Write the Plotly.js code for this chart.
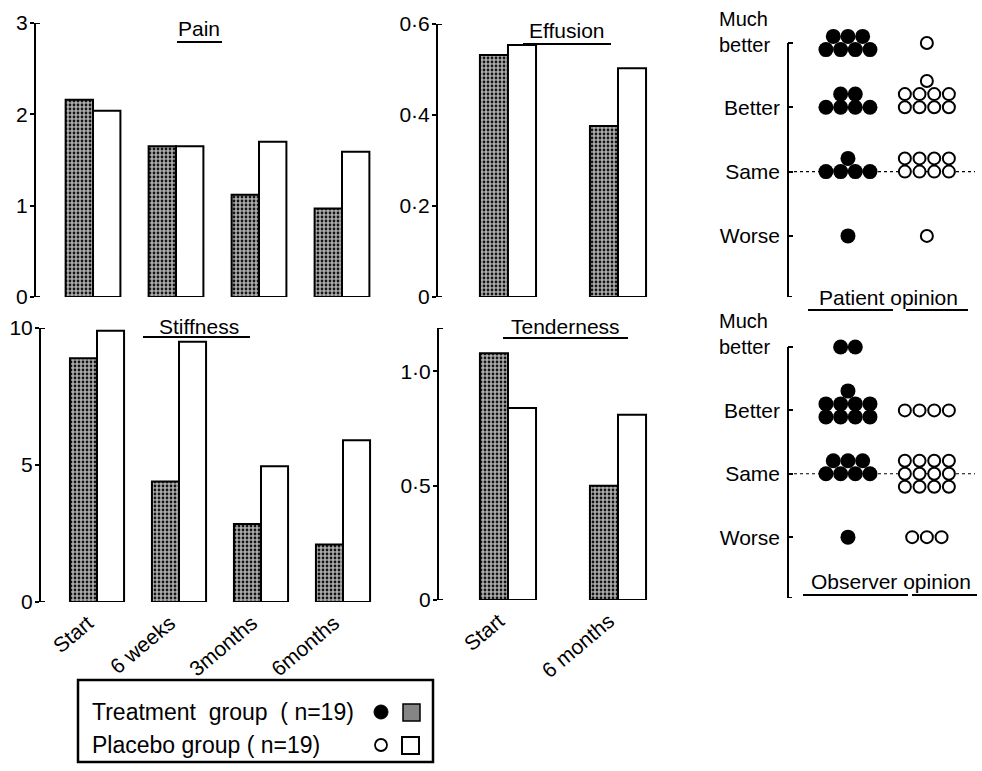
<!DOCTYPE html>
<html>
<head>
<meta charset="utf-8">
<script src="https://cdn.plot.ly/plotly-3.0.1.min.js"></script>
<style>html,body{margin:0;padding:0;background:#fff;}#chart{width:982px;height:771px;}</style>
</head>
<body>
<div id="chart"></div>
<script>
// ---------- data ----------
const timeCats = ['Start', '6 weeks', '3months', '6months'];
const twoCats = ['Start', '6 months'];

const painTreatment = [2.16, 1.65, 1.12, 0.97];
const painPlacebo = [2.04, 1.65, 1.70, 1.59];

const stiffTreatment = [8.9, 4.4, 2.85, 2.1];
const stiffPlacebo = [9.9, 9.5, 4.95, 5.9];

const effTreatment = [0.532, 0.376];
const effPlacebo = [0.554, 0.503];

const tendTreatment = [1.08, 0.50];
const tendPlacebo = [0.84, 0.81];

const painTickVals = [0, 1, 2, 3];
const painTickText = ['0', '1', '2', '3'];
const effTickVals = [0, 0.2, 0.4, 0.6];
const effTickText = ['0', '0·2', '0·4', '0·6'];
const stiffTickVals = [0, 5, 10];
const stiffTickText = ['0', '5', '10'];
const tendTickVals = [0, 0.5, 1.0];
const tendTickText = ['0', '0·5', '1·0'];

// opinion levels (value 1..4) and counts of patients per level
const opinionLevels = ['Worse', 'Same', 'Better', 'Much better'];
const patientTreatment = [1, 5, 6, 7];
const patientPlacebo = [1, 8, 9, 1];
const observerTreatment = [1, 7, 9, 2];
const observerPlacebo = [3, 12, 4, 0];

const groupNames = ['Treatment', 'Placebo'];
const groupN = [19, 19];

// ---------- helpers ----------
const W = 982, H = 771;
const px = x => x / W;
const py = y => 1 - y / H;
const FONT = 'Liberation Sans, Arial, sans-serif';

function packDots(counts, center, anchor) {
  const dx = 0.186, dy = 0.205;
  const xs = [], ys = [];
  counts.forEach((n, i) => {
    if (!n) return;
    const level = i + 1;
    const base = n <= 4 ? 1 : Math.floor(n / 4);
    const rows = [];
    for (let k = 0; k < base; k++) rows.push(n <= 4 ? n : 4);
    if (n > 4 && n % 4) rows.push(n % 4);
    // top level of the scale: stack centred on the tick
    const anc = (level === counts.length) ? 'all' : anchor;
    rows.forEach((r, k) => {
      let yoff;
      if (anc === 'all') yoff = (k - (rows.length - 1) / 2) * dy;
      else if (k < base) yoff = anc === 'bottom' ? k * dy : (k - (base - 1) / 2) * dy;
      else yoff = (anc === 'bottom' ? (base - 1) * dy : (base - 1) / 2 * dy) + dy;
      for (let j = 0; j < r; j++) {
        xs.push(center + (j - (r - 1) / 2) * dx);
        ys.push(level + yoff);
      }
    });
  });
  return {x: xs, y: ys};
}

const stipple = {
  color: '#989898',
  line: {color: 'black', width: 2},
  pattern: {shape: '.', fgcolor: '#141414', bgcolor: '#acacac', size: 4, solidity: 0.38, fillmode: 'replace'}
};
const plain = {color: 'white', line: {color: 'black', width: 2}};

function barPair(cats, tr, pl, xa, ya, w) {
  return [
    {type: 'bar', x: cats, y: tr, xaxis: xa, yaxis: ya, width: w, offset: -w, marker: stipple, hoverinfo: 'skip'},
    {type: 'bar', x: cats, y: pl, xaxis: xa, yaxis: ya, width: w, offset: 0, marker: plain, hoverinfo: 'skip'}
  ];
}

const wide = 0.33, narrow = 0.255;
const traces = [
  ...barPair(timeCats, painTreatment, painPlacebo, 'x', 'y', wide),
  ...barPair(twoCats, effTreatment, effPlacebo, 'x2', 'y2', narrow),
  ...barPair(timeCats, stiffTreatment, stiffPlacebo, 'x3', 'y3', wide),
  ...barPair(twoCats, tendTreatment, tendPlacebo, 'x4', 'y4', narrow)
];

const filledM = {symbol: 'circle', size: 15, color: 'black', line: {width: 0}};
const openM = {symbol: 'circle', size: 12, color: 'white', line: {color: 'black', width: 2}};
[[patientTreatment, 1, filledM, 'x5', 'y5', 'bottom'],
 [patientPlacebo, 2, openM, 'x5', 'y5', 'bottom'],
 [observerTreatment, 1, filledM, 'x6', 'y6', 'center'],
 [observerPlacebo, 2, openM, 'x6', 'y6', 'center']].forEach(([c, ctr, m, xa, ya, anc]) => {
  const d = packDots(c, ctr, anc);
  traces.push({type: 'scatter', mode: 'markers', x: d.x, y: d.y, xaxis: xa, yaxis: ya, marker: m, hoverinfo: 'skip', cliponaxis: false});
});

// ---------- axes ----------
const tickFont = {family: FONT, size: 21, color: 'black'};
function yAx(dom, range, vals, text, anchor) {
  return {domain: [py(dom[1]), py(dom[0])], range: range, anchor: anchor, tickvals: vals, ticktext: text,
    showline: true, linecolor: 'black', linewidth: 2, ticks: 'outside', ticklen: 4, tickwidth: 2, tickcolor: 'black',
    showgrid: false, zeroline: false, tickfont: tickFont, ticklabelstandoff: -2, fixedrange: true};
}
function xAx(dom, range, anchor, showLabels, cats) {
  return {domain: [px(dom[0]), px(dom[1])], range: range, anchor: anchor, type: 'category',
    categoryarray: cats, showline: false, showgrid: false, zeroline: false, ticks: '',
    showticklabels: showLabels, tickangle: -40, tickfont: {family: FONT, size: 21, color: 'black'},
    ticklabelshift: -9, ticklabelstandoff: 4, fixedrange: true};
}
// dot panels: range extended above the top level so stacked dots fit; axis line drawn as a shape
const dotTop = 4.25;
function dotY(domBottom, levelTopPx, bottomVal, anchor) {
  const pxPerUnit = (domBottom - levelTopPx) / (4 - bottomVal);
  const topPx = levelTopPx - (dotTop - 4) * pxPerUnit;
  return {domain: [py(domBottom), py(topPx)], range: [bottomVal, dotTop], anchor: anchor,
    tickvals: [1, 2, 3, 4], ticktext: opinionLevels.slice(0, 3).concat(['']),
    showline: false, ticks: 'inside', ticklen: 5, tickwidth: 2, tickcolor: 'black',
    showgrid: false, zeroline: false, tickfont: {family: FONT, size: 21, color: 'black'}, ticklabelstandoff: 7, fixedrange: true};
}
function dotX(anchor) {
  return {domain: [px(788), px(975)], range: [0.24, 2.61], anchor: anchor, visible: false, fixedrange: true};
}

const layout = {
  width: W, height: H, margin: {l: 0, r: 0, t: 0, b: 0},
  paper_bgcolor: 'white', plot_bgcolor: 'rgba(0,0,0,0)', showlegend: false, barmode: 'overlay',
  font: {family: FONT, color: 'black'},
  xaxis: xAx([36, 383.5], [-0.687, 3.5], 'y', false, timeCats),
  yaxis: yAx([23, 297], [0, 3], painTickVals, painTickText, 'x'),
  xaxis2: xAx([438, 673], [-0.636, 1.5], 'y2', false, twoCats),
  yaxis2: yAx([24, 297], [0, 0.6], effTickVals, effTickText, 'x2'),
  xaxis3: xAx([41, 384], [-0.683, 3.5], 'y3', true, timeCats),
  yaxis3: yAx([328, 602], [0, 10], stiffTickVals, stiffTickText, 'x3'),
  xaxis4: xAx([439, 673], [-0.627, 1.5], 'y4', true, twoCats),
  yaxis4: yAx([328, 600], [0, 1.19], tendTickVals, tendTickText, 'x4'),
  xaxis5: dotX('y5'),
  yaxis5: dotY(297, 43, 0.05, 'x5'),
  xaxis6: dotX('y6'),
  yaxis6: dotY(598, 347, 0.04, 'x6'),
  shapes: [], annotations: []
};

const A = layout.annotations, S = layout.shapes;
function txt(text, x, y, size, xanchor, extra) {
  A.push(Object.assign({text: text, xref: 'paper', yref: 'paper', x: px(x), y: py(y), xanchor: xanchor || 'center', yanchor: 'middle',
    showarrow: false, font: {family: FONT, size: size, color: 'black'}}, extra || {}));
}
function uline(x0, x1, y) {
  S.push({type: 'line', xref: 'paper', yref: 'paper', x0: px(x0), x1: px(x1), y0: py(y), y1: py(y), line: {color: 'black', width: 2}});
}
function hook(xa, ya, yv) {
  S.push({type: 'line', xref: xa + ' domain', yref: ya, xsizemode: 'pixel', xanchor: 0, x0: -1, x1: 4, y0: yv, y1: yv,
    line: {color: 'black', width: 2}});
}

// axis end hooks
hook('x', 'y', 0); hook('x', 'y', 3);
hook('x2', 'y2', 0); hook('x2', 'y2', 0.6);
hook('x3', 'y3', 0); hook('x3', 'y3', 10);
hook('x4', 'y4', 0); hook('x4', 'y4', 1.19);

// dot panel axis lines and bottom hooks
[['x5', 'y5', 0.05], ['x6', 'y6', 0.04]].forEach(([xa, ya, b]) => {
  S.push({type: 'line', xref: xa + ' domain', yref: ya, x0: 0, x1: 0, y0: b, y1: 4, line: {color: 'black', width: 2}});
  hook(xa, ya, b);
  S.push({type: 'line', xref: xa + ' domain', yref: ya, x0: 0, x1: 1, y0: 2, y1: 2, layer: 'below',
    line: {color: 'black', width: 1.2, dash: 'dot'}});
});

// panel titles
txt('Pain', 199, 29, 21); uline(177, 222, 42);
txt('Effusion', 567, 31, 21); uline(523, 611, 44);
txt('Stiffness', 199, 326, 21); uline(143, 250, 337);
txt('Tenderness', 565, 326, 21); uline(503, 628, 338);
txt('Patient opinion', 888, 298, 21); uline(808, 893, 310); uline(906, 968, 310);
txt('Observer opinion', 891, 581, 21); uline(803, 908, 595); uline(912, 977, 595);

// "Much better" labels
txt('Much<br>better', 717, 32, 20, 'left', {align: 'left'});
txt('Much<br>better', 717, 334, 20, 'left', {align: 'left'});

// legend
S.push({type: 'rect', xref: 'paper', yref: 'paper', x0: px(78), x1: px(433), y0: py(680), y1: py(762), line: {color: 'black', width: 2.5}});
txt(groupNames[0] + '  group  ( n=' + groupN[0] + ')', 90, 712, 23, 'left');
txt(groupNames[1] + ' group ( n=' + groupN[1] + ')', 90, 745, 23, 'left');
S.push({type: 'circle', xref: 'paper', yref: 'paper', x0: px(374), x1: px(388), y0: py(719), y1: py(705), fillcolor: 'black', line: {color: 'black', width: 1}});
S.push({type: 'rect', xref: 'paper', yref: 'paper', x0: px(403), x1: px(420), y0: py(721), y1: py(704), fillcolor: '#858585', line: {color: 'black', width: 1.5}});
S.push({type: 'circle', xref: 'paper', yref: 'paper', x0: px(375), x1: px(387), y0: py(751), y1: py(739), fillcolor: 'white', line: {color: 'black', width: 1.8}});
S.push({type: 'rect', xref: 'paper', yref: 'paper', x0: px(402), x1: px(419), y0: py(754), y1: py(737), fillcolor: 'white', line: {color: 'black', width: 2}});

Plotly.newPlot('chart', traces, layout, {displayModeBar: false, staticPlot: true});
</script>
</body>
</html>
